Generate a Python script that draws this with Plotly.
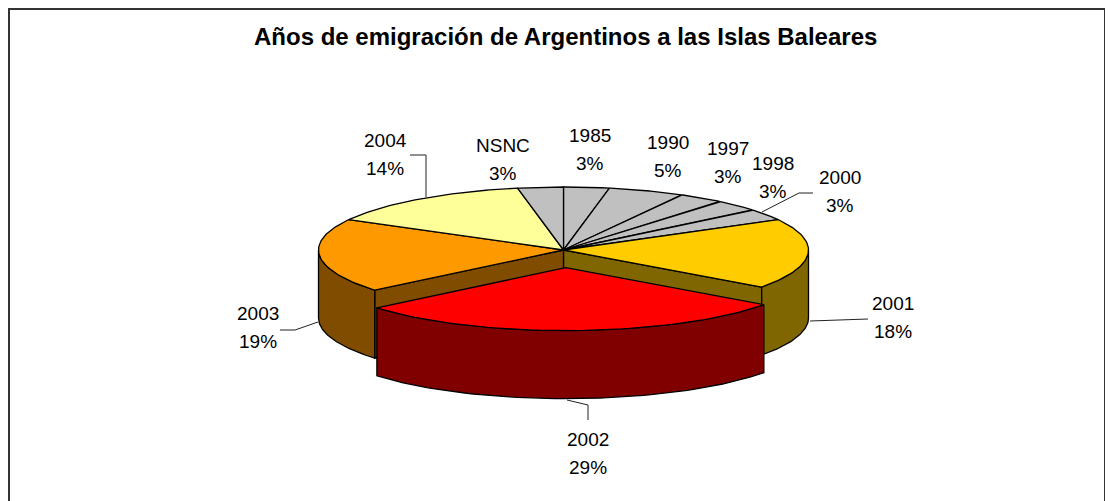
import numpy as np
import plotly.graph_objects as go

# ---- data ----
categories = ["1985", "1990", "1997", "1998", "2000", "2001", "2002", "2003", "2004", "NSNC"]
values = [3, 5, 3, 3, 3, 18, 29, 19, 14, 3]
top_colors = ["#C0C0C0", "#C0C0C0", "#C0C0C0", "#C0C0C0", "#C0C0C0",
              "#FFCC00", "#FF0000", "#FF9900", "#FFFF99", "#C0C0C0"]
side_colors = ["#606060", "#606060", "#606060", "#606060", "#606060",
               "#806600", "#800000", "#804C00", "#80804C", "#606060"]
exploded = "2002"
title_text = "Años de emigración de Argentinos a las Islas Baleares"

# ---- layout / geometry (pixel space of the window) ----
W, H = 1113, 501
PAGE_MARGIN = 8            # body margin of the html page
CX, CY = 563.5, 250.0      # centre of top ellipse
RX, RY = 245.0, 63.0       # ellipse radii
DEPTH = 68.0               # thickness of the pie
EXPLODE = 0.28             # fraction of radius used for exploded slice

label_pos = {               # centre of the category line of each label
    "1985": (590, 135), "1990": (668, 142), "1997": (728, 148), "1998": (773, 163),
    "2000": (840, 177), "2001": (893, 303), "2002": (588, 439), "2003": (258, 313),
    "2004": (385, 140), "NSNC": (503, 145),
}
LINE_GAP = 28
leaders = [
    [(410, 155), (426, 155), (426, 197)],
    [(813, 193), (799, 193), (762, 212)],
    [(868, 319), (810, 321)],
    [(280, 330), (295, 330), (318, 322)],
    [(567, 400), (588, 405), (588, 420)],
]
FONT = "Liberation Sans, Arial, sans-serif"

total = float(sum(values))
starts = np.cumsum([0] + values[:-1]) / total * 360.0
ends = np.cumsum(values) / total * 360.0


def rim(theta_deg, dx=0.0, dy=0.0, down=0.0):
    t = np.radians(theta_deg)
    return CX + dx + RX * np.sin(t), CY + dy - RY * np.cos(t) + down


def arc(a0, a1, dx=0.0, dy=0.0, down=0.0, n=60):
    th = np.linspace(a0, a1, n)
    x, y = rim(th, dx, dy, down)
    return list(x), list(y)


def poly(xs, ys, fill):
    return go.Scatter(x=xs + [xs[0]], y=ys + [ys[0]], mode="lines", fill="toself",
                      fillcolor=fill, line=dict(color="black", width=1.3),
                      hoverinfo="skip", showlegend=False)


fig = go.Figure()
ex_i = categories.index(exploded)
mid = np.radians((starts[ex_i] + ends[ex_i]) / 2)
edx, edy = EXPLODE * RX * np.sin(mid), -EXPLODE * RY * np.cos(mid)

# 1. radial cut faces of the body next to the exploded slice
for i, ang in ((ex_i - 1, ends[ex_i - 1]), (ex_i + 1, starts[ex_i + 1])):
    rx_, ry_ = rim(ang)
    xs = [CX, rx_, rx_, CX]
    ys = [CY, ry_, ry_ + DEPTH, CY + DEPTH]
    fig.add_trace(poly(xs, ys, side_colors[i]))

# 2. outer walls of the body (front half only)
for i in range(len(values)):
    if i == ex_i:
        continue
    a0, a1 = max(starts[i], 90.0), min(ends[i], 270.0)
    if a1 <= a0:
        continue
    tx, ty = arc(a0, a1)
    bx, by = arc(a0, a1, down=DEPTH)
    fig.add_trace(poly(tx + bx[::-1], ty + by[::-1], side_colors[i]))

# 3. top faces of the body
for i in range(len(values)):
    if i == ex_i:
        continue
    ax, ay = arc(starts[i], ends[i])
    fig.add_trace(poly([CX] + ax, [CY] + ay, top_colors[i]))

# 4. exploded slice: wall and top
a0, a1 = max(starts[ex_i], 90.0), min(ends[ex_i], 270.0)
tx, ty = arc(a0, a1, edx, edy)
bx, by = arc(a0, a1, edx, edy, DEPTH)
fig.add_trace(poly(tx + bx[::-1], ty + by[::-1], side_colors[ex_i]))
ax, ay = arc(starts[ex_i], ends[ex_i], edx, edy)
fig.add_trace(poly([CX + edx] + ax, [CY + edy] + ay, top_colors[ex_i]))

# labels
annotations = []
for c, v in zip(categories, values):
    x, y = label_pos[c]
    pct = f"{round(v / total * 100)}%"
    for txt, yy in ((c, y), (pct, y + LINE_GAP)):
        annotations.append(dict(x=x, y=yy, xref="x", yref="y", text=txt, showarrow=False,
                                xanchor="center", yanchor="middle",
                                font=dict(family=FONT, size=19, color="black")))
annotations.append(dict(x=565, y=36, xref="x", yref="y", text=f"<b>{title_text}</b>",
                        showarrow=False, xanchor="center", yanchor="middle",
                        font=dict(family=FONT, size=24, color="black")))

shapes = []
for pts in leaders:
    path = "M " + " L ".join(f"{px},{py}" for px, py in pts)
    shapes.append(dict(type="path", path=path, xref="x", yref="y",
                       line=dict(color="#222222", width=1)))
# chart frame
shapes.append(dict(type="rect", x0=9, y0=9, x1=1105, y1=520, xref="x", yref="y",
                   line=dict(color="#333333", width=2), fillcolor="rgba(0,0,0,0)"))

fig.update_layout(
    width=W, height=H, margin=dict(l=0, r=0, t=0, b=0),
    paper_bgcolor="white", plot_bgcolor="white",
    xaxis=dict(range=[PAGE_MARGIN, W + PAGE_MARGIN], visible=False, fixedrange=True),
    yaxis=dict(range=[H + PAGE_MARGIN, PAGE_MARGIN], visible=False, fixedrange=True),
    annotations=annotations, shapes=shapes,
)
fig.write_html("out.html")
